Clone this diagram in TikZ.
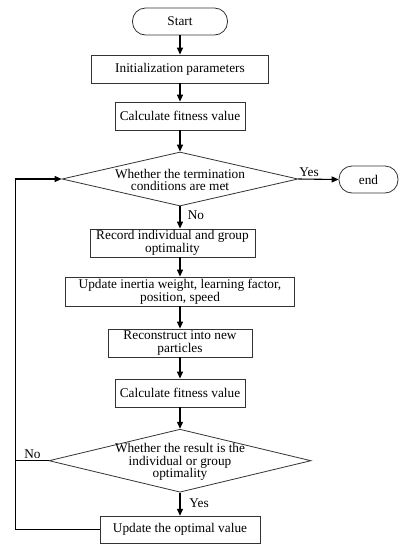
\documentclass[tikz,border=0pt]{standalone}
\usepackage{fontspec}
\setmainfont{Liberation Serif}
\usetikzlibrary{arrows.meta,shapes.geometric}
\begin{document}
\begin{tikzpicture}[x=1pt,y=-1pt, font=\fontsize{13.3}{12.6}\selectfont,
  box/.style={draw=black!80, line width=0.8pt, inner sep=0pt, align=center},
  term/.style={box, rounded corners=13pt},
  dia/.style={draw=black!80, line width=0.8pt, diamond, inner sep=0pt},
  txt/.style={inner sep=0pt, align=center},
  arr/.style={line width=1.1pt, -{Triangle[length=7pt,width=6pt]}},
  ln/.style={line width=1.1pt}]
\useasboundingbox (0,0) rectangle (410,550);
\node[term, minimum width=95pt, minimum height=27pt] (start) at (180,21.5) {Start};
\node[box, minimum width=177pt, minimum height=28pt] (init) at (180,69) {Initialization parameters};
\node[box, minimum width=130pt, minimum height=28pt] (calc1) at (180,116) {Calculate fitness value};
\node[dia, minimum width=236pt, minimum height=54pt] (dia1) at (180,179) {};
\node[txt] (dia1t) at (180,180) {Whether the termination\\conditions are met};
\node[term, minimum width=59pt, minimum height=27pt, rounded corners=13pt] (end) at (368.5,179.5) {end};
\node[box, minimum width=165pt, minimum height=28pt] (rec) at (172.5,243) {Record individual and group\\optimality};
\node[box, minimum width=229pt, minimum height=29pt] (upd) at (180,291.5) {Update inertia weight, learning factor,\\position, speed};
\node[box, minimum width=144pt, minimum height=28pt] (recon) at (180,343) {Reconstruct into new\\particles};
\node[box, minimum width=130pt, minimum height=28pt] (calc2) at (180,393) {Calculate fitness value};
\node[dia, minimum width=262pt, minimum height=63pt] (dia2) at (180,460.7) {};
\node[txt] (dia2t) at (180,462) {Whether the result is the\\individual or group\\optimality};
\node[box, minimum width=160pt, minimum height=27pt] (opt) at (180,529.7) {Update the optimal value};
\coordinate (lp) at (15.7,529.7);
\node[txt] (yes1) at (309,172) {Yes};
\node[txt] (no1) at (196,215) {No};
\node[txt] (yes2) at (199,503) {Yes};
\node[txt] (no2) at (32.5,454) {No};
\draw[arr] (start) -- (init);
\draw[arr] (init) -- (calc1);
\draw[arr] (calc1) -- (dia1.north);
\draw[arr] (dia1.east) -- (end.west);
\draw[arr] (dia1.south) -- (dia1.south |- rec.north);
\draw[arr] (rec.south -| upd.north) -- (upd.north);
\draw[arr] (upd) -- (recon);
\draw[arr] (recon) -- (calc2);
\draw[arr] (calc2) -- (dia2.north);
\draw[arr] (dia2.south) -- (opt.north);
\draw[arr] (opt.west) -- (lp) |- (dia1.west);
\draw[ln] (dia2.west) -- (dia2.west -| lp);
\end{tikzpicture}
\end{document}
